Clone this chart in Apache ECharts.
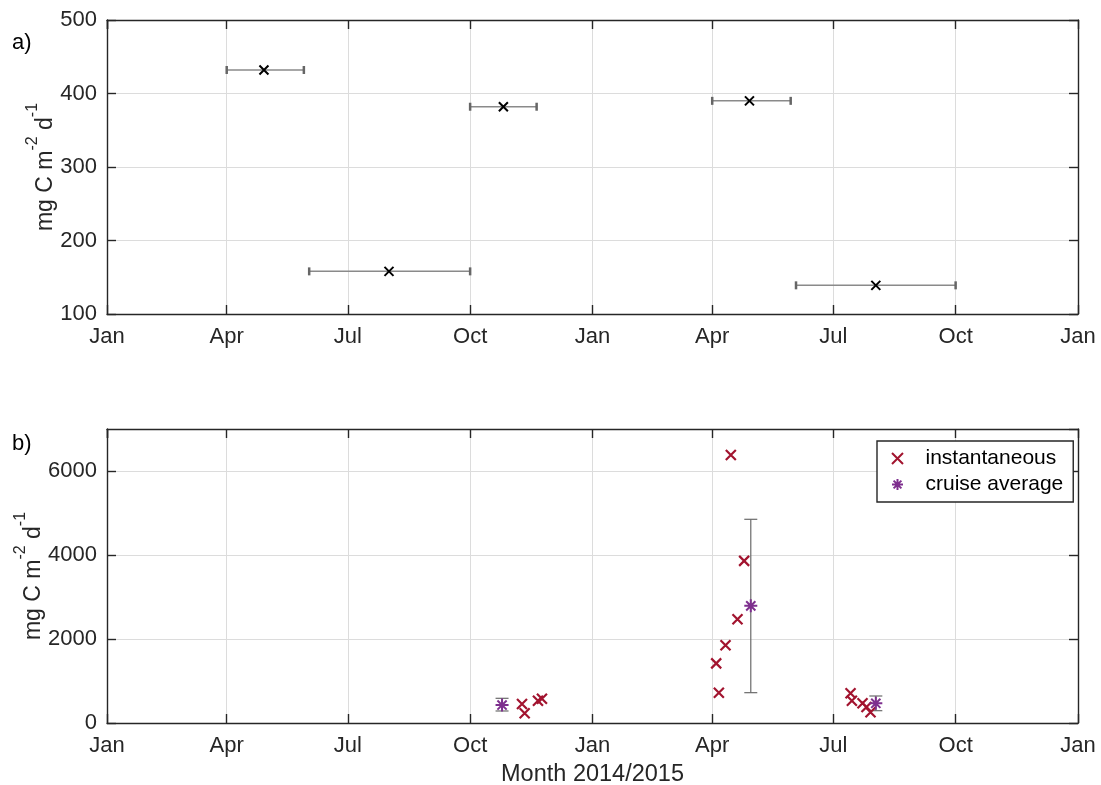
<!DOCTYPE html>
<html><head><meta charset="utf-8">
<script src="https://cdn.jsdelivr.net/npm/echarts@6/dist/echarts.min.js"></script>
<style>html,body{margin:0;padding:0;background:#fff}#c{width:1101px;height:785px}</style>
</head><body><div id="c"></div>
<script>
// ---------- data ----------
const monthLabels = ['Jan','Feb','Mar','Apr','May','Jun','Jul','Aug','Sep','Oct','Nov','Dec'];
const xRange = ['2014-01-01', '2016-01-01'];

// panel a: time-window estimates with horizontal ranges
const aMid   = ['2014-04-29','2014-08-01','2014-10-26','2015-04-29','2015-08-02'];
const aStart = ['2014-04-01','2014-06-02','2014-10-01','2015-04-01','2015-06-03'];
const aEnd   = ['2014-05-29','2014-10-01','2014-11-20','2015-05-30','2015-10-01'];
const aValue = [432, 158, 382, 390, 139];
const aYRange = [100, 500];
const aYStep = 100;

// panel b: instantaneous and cruise averages
const instDates  = ['2014-11-09','2014-11-11','2014-11-21','2014-11-24',
                    '2015-04-04','2015-04-06','2015-04-11','2015-04-15','2015-04-20','2015-04-25',
                    '2015-07-14','2015-07-15','2015-07-23','2015-07-26','2015-07-29'];
const instValues = [452, 231, 531, 578,
                    1420, 720, 1850, 6380, 2470, 3860,
                    707, 531, 469, 381, 255];
const cruiseDates  = ['2014-10-25','2015-04-30','2015-08-02'];
const cruiseValues = [428, 2790, 469];
const cruiseLow    = [286, 722, 293];
const cruiseHigh   = [588, 4850, 643];
const bYRange = [0, 7000];
const bYStep = 2000;

const seriesNames = ['instantaneous', 'cruise average'];
const yName = ['mg C m', '-2', ' d', '-1'];
const xName = 'Month 2014/2015';
const panelLabels = ['a)', 'b)'];

// ---------- helpers ----------
function t(s) { const p = s.split('-').map(Number); return new Date(p[0], p[1]-1, p[2]).getTime(); }

const TXT = '#262626';
const FONT = '"Liberation Sans", Arial, Helvetica, sans-serif';
const RED = '#A2142F';
const PURPLE = '#7E2F8E';
const X_PATH = 'path://M0,0L10,10M10,0L0,10';
const AST_PATH = 'path://M5,0L5,10M0,5L10,5M1.46,1.46L8.54,8.54M8.54,1.46L1.46,8.54';
const DAY = 86400000;

function xAxisDef(gridIndex, main) {
  return {
    type: 'time', gridIndex: gridIndex, position: main ? 'bottom' : 'top',
    min: t(xRange[0]), max: t(xRange[1]),
    splitNumber: 8, minInterval: 91 * DAY, maxInterval: 91 * DAY,
    axisLine: { show: true, onZero: false, lineStyle: { color: TXT, width: 1.4 } },
    axisTick: { show: true, inside: true, length: 9, lineStyle: { color: TXT, width: 1.4 } },
    axisLabel: main ? {
      show: true, color: TXT, fontSize: 22, fontFamily: FONT, margin: 12,
      formatter: function (v) { return monthLabels[new Date(v).getMonth()]; },
      showMinLabel: true, showMaxLabel: true, hideOverlap: false
    } : { show: false },
    splitLine: { show: main, lineStyle: { color: '#dcdcdc', width: 1 } },
    minorTick: { show: false }
  };
}
function yAxisDef(gridIndex, main, range, step, gap) {
  return {
    type: 'value', gridIndex: gridIndex, position: main ? 'left' : 'right',
    min: range[0], max: range[1], interval: step,
    axisLine: { show: true, onZero: false, lineStyle: { color: TXT, width: 1.4 } },
    axisTick: { show: true, inside: true, length: 9, lineStyle: { color: TXT, width: 1.4 } },
    axisLabel: main ? { show: true, color: TXT, fontSize: 22, fontFamily: FONT, margin: 10,
      formatter: function (v) { return String(v); },
      showMaxLabel: (range[1] % step === 0) } : { show: false },
    splitLine: { show: main, lineStyle: { color: '#dcdcdc', width: 1 } },
    name: main ? '{n|' + yName[0] + '}{s|' + yName[1] + '}{n|' + yName[2] + '}{s|' + yName[3] + '}' : '',
    nameLocation: 'middle', nameGap: gap, nameMoveOverlap: false,
    nameTextStyle: {
      color: TXT, fontFamily: FONT, fontSize: 23,
      rich: {
        n: { fontSize: 23, color: TXT, fontFamily: FONT, lineHeight: 32, verticalAlign: 'bottom' },
        s: { fontSize: 16, color: TXT, fontFamily: FONT, lineHeight: 32, verticalAlign: 'top' }
      }
    }
  };
}

// ---------- series ----------
const aRanges = aStart.map((s, i) => [t(s), t(aEnd[i]), aValue[i]]);
const aPoints = aMid.map((s, i) => [t(s), aValue[i]]);
const instPoints = instDates.map((s, i) => [t(s), instValues[i]]);
const cruisePoints = cruiseDates.map((s, i) => [t(s), cruiseValues[i]]);
const cruiseBars = cruiseDates.map((s, i) => [t(s), cruiseLow[i], cruiseHigh[i]]);

function hErrRender(params, api) {
  const p1 = api.coord([api.value(0), api.value(2)]);
  const p2 = api.coord([api.value(1), api.value(2)]);
  const h = 4;
  return { type: 'group', children: [
    { type: 'line', shape: { x1: p1[0], y1: p1[1], x2: p2[0], y2: p2[1] }, style: { stroke: '#8a8a8a', lineWidth: 1.5 } },
    { type: 'line', shape: { x1: p1[0], y1: p1[1]-h, x2: p1[0], y2: p1[1]+h }, style: { stroke: '#666', lineWidth: 2.5 } },
    { type: 'line', shape: { x1: p2[0], y1: p2[1]-h, x2: p2[0], y2: p2[1]+h }, style: { stroke: '#666', lineWidth: 2.5 } }
  ]};
}
function vErrRender(params, api) {
  const lo = api.coord([api.value(0), api.value(1)]);
  const hi = api.coord([api.value(0), api.value(2)]);
  const w = 6.5;
  const st = { stroke: '#6a6a6a', lineWidth: 1.2 };
  return { type: 'group', children: [
    { type: 'line', shape: { x1: lo[0], y1: lo[1], x2: hi[0], y2: hi[1] }, style: st },
    { type: 'line', shape: { x1: lo[0]-w, y1: lo[1], x2: lo[0]+w, y2: lo[1] }, style: st },
    { type: 'line', shape: { x1: hi[0]-w, y1: hi[1], x2: hi[0]+w, y2: hi[1] }, style: st }
  ]};
}

const option = {
  backgroundColor: '#fff',
  animation: false,
  textStyle: { fontFamily: FONT, color: TXT },
  grid: [
    { left: 107, right: 23, top: 20, height: 294, containLabel: false, outerBoundsMode: 'none' },
    { left: 107, right: 23, top: 429, height: 294, containLabel: false, outerBoundsMode: 'none' }
  ],
  xAxis: [
    xAxisDef(0, true),
    xAxisDef(0, false),
    Object.assign(xAxisDef(1, true), { name: xName, nameLocation: 'middle', nameGap: 40, nameMoveOverlap: false,
      nameTextStyle: { color: TXT, fontSize: 23.5, fontFamily: FONT } }),
    xAxisDef(1, false)
  ],
  yAxis: [
    yAxisDef(0, true, aYRange, aYStep, 50),
    yAxisDef(0, false, aYRange, aYStep, 0),
    yAxisDef(1, true, bYRange, bYStep, 62),
    yAxisDef(1, false, bYRange, bYStep, 0)
  ],
  legend: {
    show: true,
    data: seriesNames,
    orient: 'vertical',
    left: 877, top: 441,
    width: 190,
    backgroundColor: '#fff',
    borderColor: TXT, borderWidth: 1.4, borderRadius: 0,
    padding: [7, 10, 7, 14],
    itemGap: 5,
    itemWidth: 30, itemHeight: 11,
    textStyle: { color: '#000', fontSize: 21, fontFamily: FONT, padding: [0, 0, 0, 8] },
    selectedMode: false
  },
  graphic: [
    { type: 'text', left: 12, top: 32, style: { text: panelLabels[0], fill: '#000', font: '22px ' + FONT } },
    { type: 'text', left: 12, top: 433, style: { text: panelLabels[1], fill: '#000', font: '22px ' + FONT } }
  ],
  series: [
    { type: 'custom', name: 'range', xAxisIndex: 0, yAxisIndex: 0, renderItem: hErrRender,
      encode: { x: [0, 1], y: 2 }, data: aRanges, z: 2, silent: true },
    { type: 'scatter', name: 'mean', xAxisIndex: 0, yAxisIndex: 0, data: aPoints,
      symbol: X_PATH, symbolSize: 9, z: 5,
      itemStyle: { color: '#000', borderColor: '#000', borderWidth: 2, opacity: 1 } },
    { type: 'custom', name: 'err', xAxisIndex: 2, yAxisIndex: 2, renderItem: vErrRender,
      encode: { x: 0, y: [1, 2] }, data: cruiseBars, z: 2, silent: true },
    { type: 'scatter', name: seriesNames[0], xAxisIndex: 2, yAxisIndex: 2, data: instPoints,
      symbol: X_PATH, symbolSize: 10, z: 5,
      itemStyle: { color: RED, borderColor: RED, borderWidth: 2.2, opacity: 1 } },
    { type: 'scatter', name: seriesNames[1], xAxisIndex: 2, yAxisIndex: 2, data: cruisePoints,
      symbol: AST_PATH, symbolSize: 13, z: 6,
      itemStyle: { color: PURPLE, borderColor: PURPLE, borderWidth: 2, opacity: 1 } }
  ]
};

const chart = echarts.init(document.getElementById('c'), null, { renderer: 'canvas' });
chart.setOption(option);
</script>
</body></html>
